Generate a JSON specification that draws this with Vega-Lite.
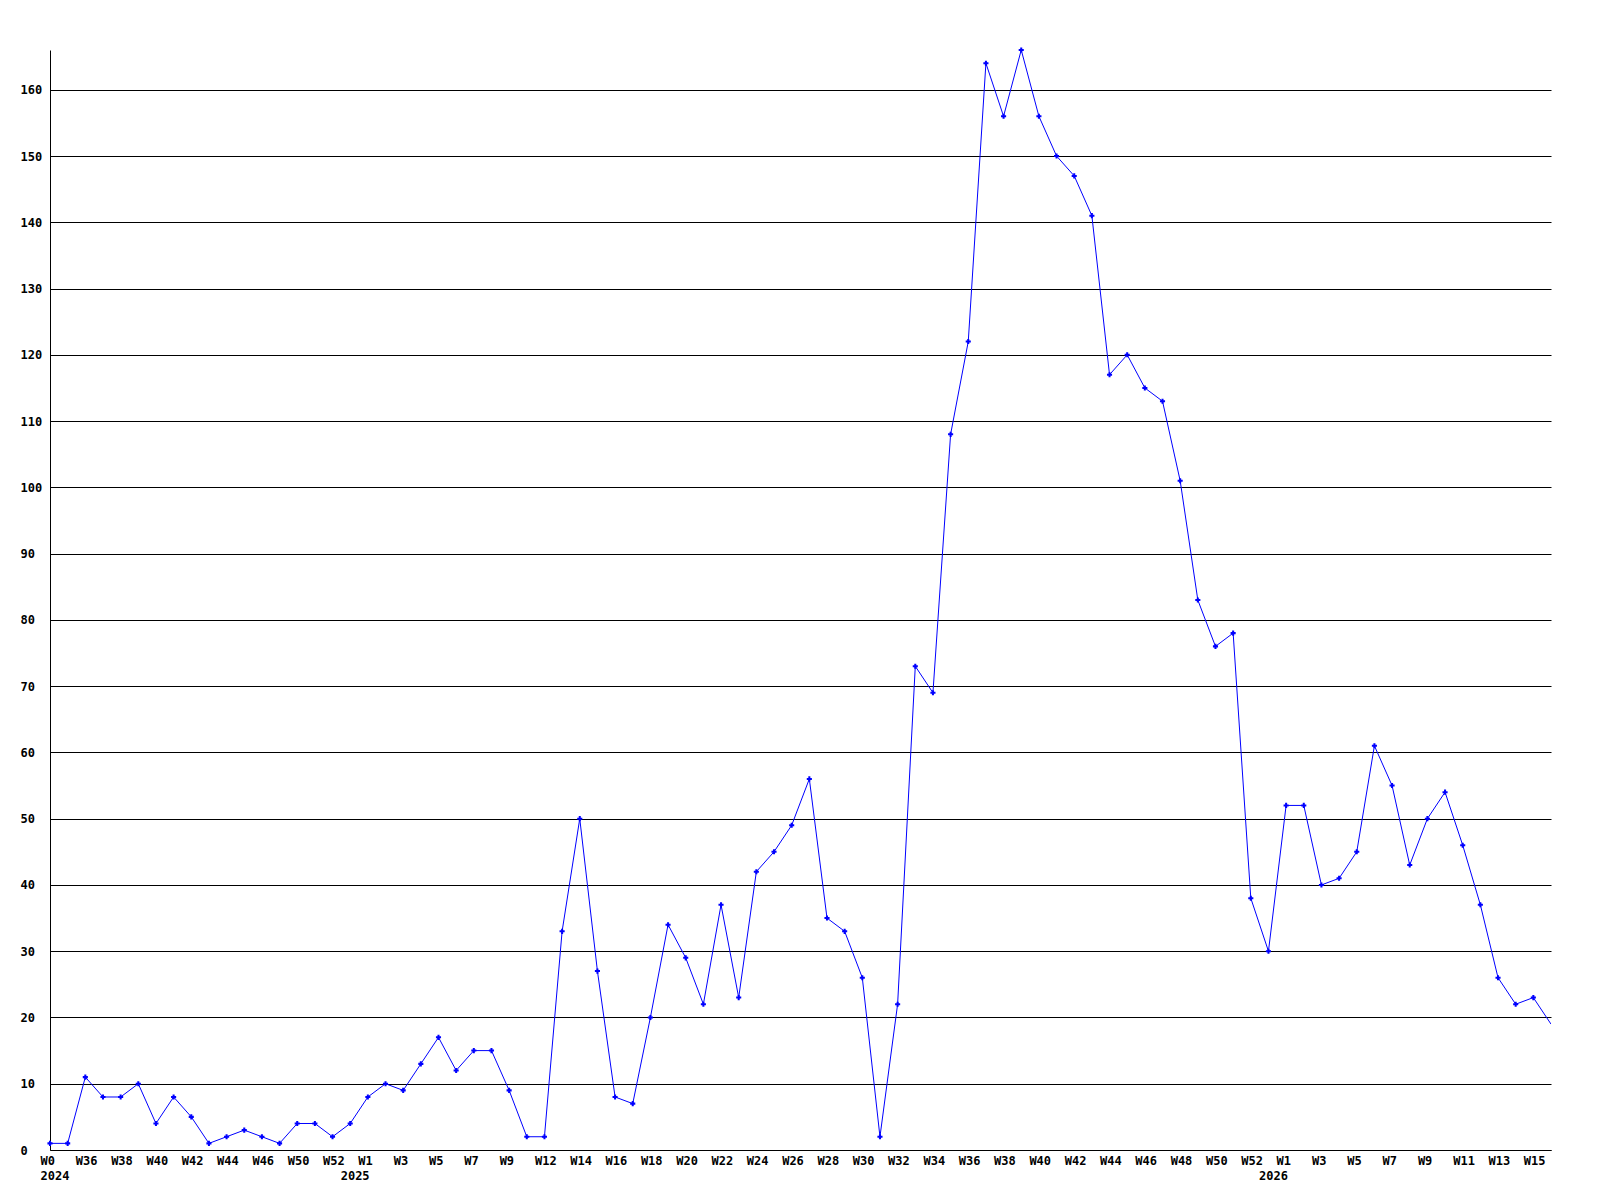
{
  "$schema": "https://vega.github.io/schema/vega-lite/v6.json",
  "width": 1501,
  "height": 1100,
  "autosize": {"type": "none"},
  "padding": {"left": 50, "top": 50, "right": 49, "bottom": 50},
  "background": "white",
  "config": {"view": {"stroke": null}},
  "data": {"values": [
    {"i":0,"v":1},{"i":1,"v":1},{"i":2,"v":11},{"i":3,"v":8},{"i":4,"v":8},{"i":5,"v":10},{"i":6,"v":4},{"i":7,"v":8},{"i":8,"v":5},{"i":9,"v":1},
    {"i":10,"v":2},{"i":11,"v":3},{"i":12,"v":2},{"i":13,"v":1},{"i":14,"v":4},{"i":15,"v":4},{"i":16,"v":2},{"i":17,"v":4},{"i":18,"v":8},{"i":19,"v":10},
    {"i":20,"v":9},{"i":21,"v":13},{"i":22,"v":17},{"i":23,"v":12},{"i":24,"v":15},{"i":25,"v":15},{"i":26,"v":9},{"i":27,"v":2},{"i":28,"v":2},{"i":29,"v":33},
    {"i":30,"v":50},{"i":31,"v":27},{"i":32,"v":8},{"i":33,"v":7},{"i":34,"v":20},{"i":35,"v":34},{"i":36,"v":29},{"i":37,"v":22},{"i":38,"v":37},{"i":39,"v":23},
    {"i":40,"v":42},{"i":41,"v":45},{"i":42,"v":49},{"i":43,"v":56},{"i":44,"v":35},{"i":45,"v":33},{"i":46,"v":26},{"i":47,"v":2},{"i":48,"v":22},{"i":49,"v":73},
    {"i":50,"v":69},{"i":51,"v":108},{"i":52,"v":122},{"i":53,"v":164},{"i":54,"v":156},{"i":55,"v":166},{"i":56,"v":156},{"i":57,"v":150},{"i":58,"v":147},{"i":59,"v":141},
    {"i":60,"v":117},{"i":61,"v":120},{"i":62,"v":115},{"i":63,"v":113},{"i":64,"v":101},{"i":65,"v":83},{"i":66,"v":76},{"i":67,"v":78},{"i":68,"v":38},{"i":69,"v":30},
    {"i":70,"v":52},{"i":71,"v":52},{"i":72,"v":40},{"i":73,"v":41},{"i":74,"v":45},{"i":75,"v":61},{"i":76,"v":55},{"i":77,"v":43},{"i":78,"v":50},{"i":79,"v":54},
    {"i":80,"v":46},{"i":81,"v":37},{"i":82,"v":26},{"i":83,"v":22},{"i":84,"v":23},{"i":85,"v":19}
  ]},
  "encoding": {
    "x": {
      "field": "i", "type": "quantitative",
      "scale": {"domain": [0, 85], "nice": false, "zero": false},
      "axis": {
        "title": null,
        "values": [0,2,4,6,8,10,12,14,16,17,18,20,22,24,26,28,30,32,34,36,38,40,42,44,46,48,50,52,54,56,58,60,62,64,66,68,69,70,72,74,76,78,80,82,84],
        "labelExpr": "datum.value == 17 ? ['', '2025'] : datum.value == 69 ? ['', '2026'] : datum.value == 0 ? ['W0', '2024'] : ['W0','W36','W38','W40','W42','W44','W46','W50','W52','W1','W3','W5','W7','W9','W12','W14','W16','W18','W20','W22','W24','W26','W28','W30','W32','W34','W36','W38','W40','W42','W44','W46','W48','W50','W52','W1','W3','W5','W7','W9','W11','W13','W15'][datum.value/2]",
        "grid": false, "ticks": false, "tickSize": 0,
        "domainColor": "black", "domainWidth": 1,
        "labelFont": "DejaVu Sans Mono", "labelFontWeight": "bold", "labelFontSize": 12, "labelColor": "black",
        "labelAlign": "left", "labelBaseline": "top", "labelOffset": -10, "labelPadding": 5, "labelLineHeight": 15,
        "labelOverlap": false, "labelFlush": false, "labelBound": false
      }
    },
    "y": {
      "field": "v", "type": "quantitative",
      "scale": {"domain": [0, 166], "nice": false},
      "axis": {
        "title": null,
        "values": [0,10,20,30,40,50,60,70,80,90,100,110,120,130,140,150,160],
        "grid": true, "gridColor": "black", "gridWidth": 1, "gridOpacity": 1,
        "ticks": false, "tickSize": 0,
        "domainColor": "black", "domainWidth": 1,
        "labelFont": "DejaVu Sans Mono", "labelFontWeight": "bold", "labelFontSize": 12, "labelColor": "black",
        "labelAlign": "left", "labelBaseline": "middle", "labelPadding": 30,
        "labelOverlap": false, "labelFlush": false, "labelBound": false
      }
    }
  },
  "layer": [
    {"mark": {"type": "line", "color": "#0000ff", "strokeWidth": 1, "clip": true}},
    {
      "transform": [{"filter": "datum.i < 85"}],
      "mark": {"type": "point", "shape": "cross", "filled": true, "size": 26, "color": "#0000ff", "opacity": 1, "clip": false}
    }
  ]
}
